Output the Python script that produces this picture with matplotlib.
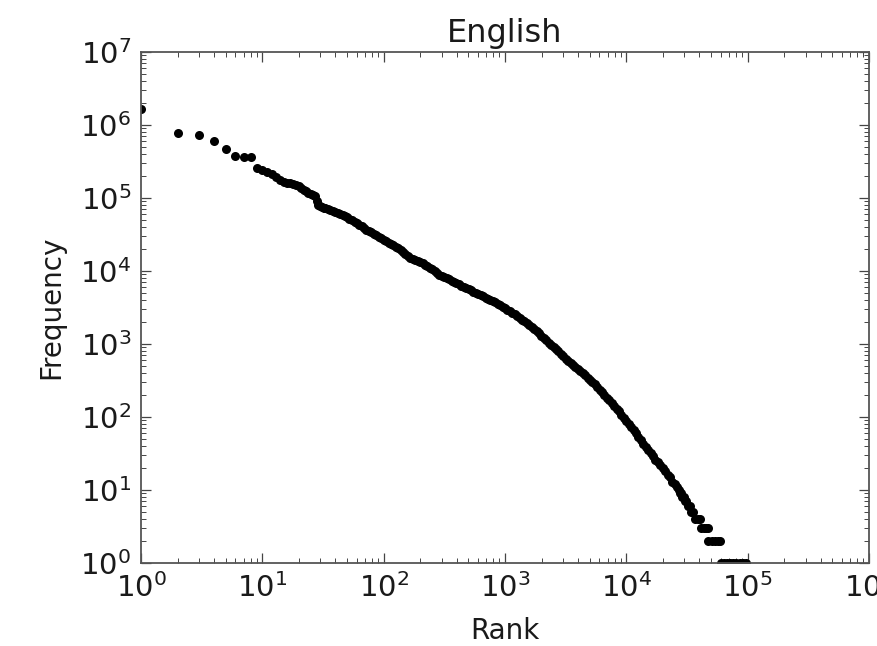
import matplotlib
matplotlib.use('Agg')
import matplotlib.pyplot as plt
from matplotlib.ticker import LogLocator, NullFormatter

# word rank / frequency pairs
head_ranks = [1, 2, 3, 4, 5, 6, 7, 8]
head_freqs = [1640000, 785000, 723000, 610000, 473000, 375000, 370000, 368000]

low_ranks = [9, 10, 11, 12, 13, 14, 15, 16, 17, 18, 19, 20, 21, 22, 23, 24,
             25, 26, 27, 28, 29, 30, 31]
low_freqs = [257000, 240000, 224000, 214000, 195000, 178000, 166000, 162000,
             158000, 155000, 151000, 145000, 135000, 129000, 123000, 117000,
             112000, 110000, 105000, 91000, 81000, 78000, 76000]

mid_ranks = [32, 33, 35, 36, 38, 40, 42, 44, 46, 48, 50, 52, 55, 58, 60, 63,
             66, 69, 72, 76, 79, 83, 87, 91, 95, 100, 105, 110, 115, 120, 126,
             132, 138, 145, 151, 158, 166, 174, 182, 191, 200, 209, 219, 229,
             240, 251, 263, 275, 288, 302, 316, 331, 347, 363, 380, 398, 417,
             437, 457, 479, 501, 525, 550, 575, 603, 631, 661, 692, 724, 759,
             794, 832, 871, 912, 955, 1000, 1047, 1096, 1148, 1202, 1259,
             1318, 1380, 1445, 1514, 1585, 1660, 1738, 1820, 1905]
mid_freqs = [74100, 72400, 70500, 68400, 66400, 64600, 62700, 61000, 58900,
             56900, 54300, 51900, 49500, 47300, 44900, 42700, 40700, 38900,
             36900, 35100, 33700, 32400, 30900, 29500, 28200, 26900, 25700,
             24500, 23400, 22400, 21400, 20400, 19200, 18000, 16900, 15800,
             15200, 14600, 14100, 13600, 13200, 12900, 12200, 11600, 11000,
             10500, 9890, 9330, 8950, 8610, 8280, 7940, 7670, 7410, 7110,
             6840, 6580, 6310, 6100, 5890, 5650, 5430, 5220, 5010, 4840, 4680,
             4490, 4320, 4150, 3980, 3850, 3720, 3550, 3390, 3240, 3090, 2950,
             2820, 2690, 2570, 2430, 2290, 2160, 2040, 1930, 1820, 1700, 1585,
             1490, 1400]

steep_ranks = [1995, 2089, 2188, 2291, 2399, 2512, 2630, 2754, 2884, 3020,
               3162, 3311, 3467, 3631, 3802, 3981, 4169, 4365, 4571, 4786,
               5012, 5248, 5495, 5754, 6026, 6310, 6607, 6918, 7244, 7586,
               7943, 8318, 8710, 9120, 9550, 10000, 10471, 10965, 11482,
               12023, 12589, 13183, 13804, 14454, 15136, 15849, 16596, 17378,
               18197, 19055, 19953, 20893, 21878, 22909, 23988, 25119]
steep_freqs = [1288, 1202, 1122, 1047, 977, 912, 851, 794, 733, 684, 631, 589,
               550, 513, 484, 457, 427, 398, 372, 347, 324, 302, 279, 257,
               237, 219, 200, 184, 170, 155, 143, 130, 119, 108, 98, 89, 80,
               72, 66, 60, 54, 48, 43, 39, 35, 32, 29, 26, 24, 22, 20, 18, 16,
               15, 13, 12]

tail_ranks = [26300, 27000, 27600, 28200, 28800, 29700, 30200, 31300, 32000,
              33300, 34300, 35600, 37000, 38800, 40800, 41400, 43300, 45300,
              47000, 47500, 50500, 53500, 56500, 59300, 60500, 64000, 67500,
              71500, 76000, 80500, 86000, 91500, 97000]
tail_freqs = [11, 10, 9, 9, 8, 8, 7, 7, 6, 6, 5, 5, 4, 4, 4, 3, 3, 3, 3,
              2, 2, 2, 2, 2, 1, 1, 1, 1, 1, 1, 1, 1, 1]

ranks = head_ranks + low_ranks + mid_ranks + steep_ranks + tail_ranks
freqs = head_freqs + low_freqs + mid_freqs + steep_freqs + tail_freqs

fig = plt.figure(figsize=(8.77, 6.46), dpi=100)
ax = fig.add_axes([141 / 877, 1 - 563 / 646, 728 / 877, 511 / 646])

ax.loglog(ranks, freqs, 'o', color='k', markersize=6.5, markeredgewidth=0)

ax.set_xlim(1, 1e6)
ax.set_ylim(1, 1e7)
ax.xaxis.set_major_locator(LogLocator(base=10, numticks=10))
ax.yaxis.set_major_locator(LogLocator(base=10, numticks=10))
ax.xaxis.set_minor_locator(LogLocator(base=10, subs=range(2, 10), numticks=20))
ax.yaxis.set_minor_locator(LogLocator(base=10, subs=range(2, 10), numticks=20))
ax.xaxis.set_minor_formatter(NullFormatter())
ax.yaxis.set_minor_formatter(NullFormatter())

ax.tick_params(which='both', direction='in', top=True, right=True,
               colors='#444444', labelcolor='#1a1a1a')
ax.tick_params(which='major', length=7, width=0.9, labelsize=21, pad=7)
ax.tick_params(which='minor', length=3.5, width=0.7)
for s in ax.spines.values():
    s.set_color('#555555')
    s.set_linewidth(1.3)

ax.set_xlabel('Rank', fontsize=20, color='#1a1a1a', labelpad=10)
ax.set_ylabel('Frequency', fontsize=20, color='#1a1a1a', labelpad=11)
ax.set_title('English', fontsize=23, color='#1a1a1a', pad=7)

fig.savefig('out.png', dpi=100, facecolor='white')
